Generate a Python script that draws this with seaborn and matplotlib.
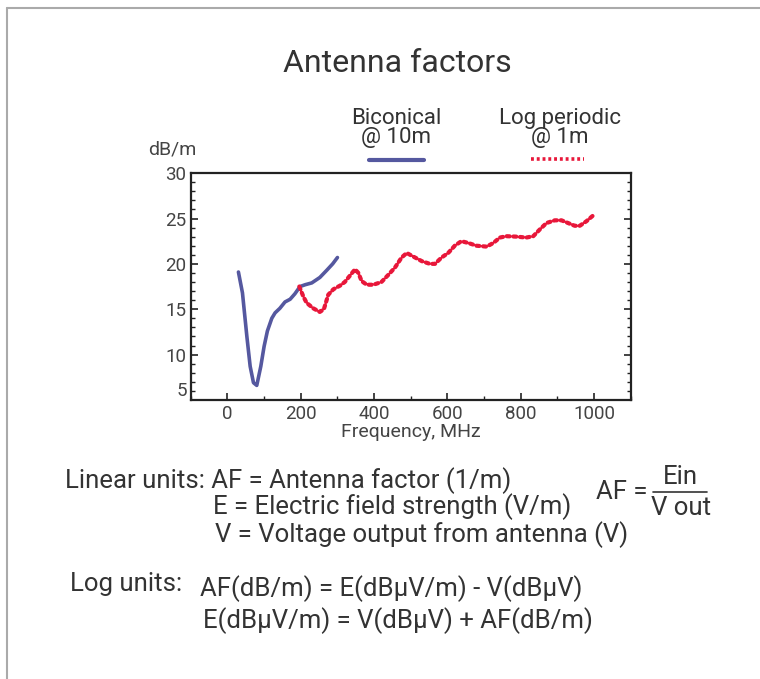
import matplotlib
matplotlib.use("Agg")
import matplotlib.pyplot as plt
from matplotlib.lines import Line2D
from matplotlib.ticker import MultipleLocator
import seaborn as sns
import pandas as pd

# ---- data ----
bic_freq = [30, 41, 53, 62, 71, 80, 91, 100, 109, 121, 130, 143, 157, 171, 184,
            198, 212, 230, 252, 271, 287, 300]
bic_af = [19.1, 16.8, 12.0, 8.7, 6.9, 6.6, 8.7, 10.9, 12.6, 14.0, 14.6, 15.1, 15.8,
          16.1, 16.7, 17.5, 17.7, 17.9, 18.5, 19.3, 20.0, 20.7]

lp_freq = [196, 207, 216, 234, 252, 263, 275, 289, 307, 320, 336, 348, 357, 366,
           380, 398, 420, 439, 457, 475, 489, 507, 530, 552, 566, 584, 602, 620,
           638, 657, 679, 707, 725, 743, 761, 788, 815, 834, 852, 870, 893, 911,
           929, 947, 961, 979, 1002]
lp_af = [17.5, 16.4, 15.7, 15.1, 14.7, 15.0, 16.6, 17.2, 17.6, 18.0, 18.8, 19.4,
         19.0, 18.1, 17.7, 17.7, 18.0, 18.8, 19.6, 20.7, 21.2, 20.8, 20.3, 20.0,
         20.0, 20.7, 21.2, 22.0, 22.5, 22.3, 22.0, 21.9, 22.3, 22.9, 23.05, 23.0,
         22.9, 23.05, 23.8, 24.5, 24.8, 24.8, 24.5, 24.2, 24.2, 24.7, 25.5]

x_ticks = [0, 200, 400, 600, 800, 1000]
y_ticks = [5, 10, 15, 20, 25, 30]

title = "Antenna factors"
x_label = "Frequency, MHz"
y_label = "dB/m"

sns.set_theme(style="white")
FONT = ["Roboto", "DejaVu Sans"]
plt.rcParams["font.family"] = FONT
TXT = "#333333"

fig = plt.figure(figsize=(7.6, 6.79), dpi=100)
ax = fig.add_axes([0.251, 0.411, 0.579, 0.334])

blue = "#55589f"
red = "#e8173a"

df_b = pd.DataFrame({"f": bic_freq, "af": bic_af})
df_l = pd.DataFrame({"f": lp_freq, "af": lp_af})
sns.lineplot(data=df_b, x="f", y="af", ax=ax, color=blue, lw=2.6, sort=False,
             solid_capstyle="round")
sns.lineplot(data=df_l, x="f", y="af", ax=ax, color=red, lw=3.0, sort=False,
             linestyle=(0, (0.7, 0.9)), dash_capstyle="round")

ax.set_xlim(-100, 1100)
ax.set_ylim(5, 30)
ax.set_xticks(x_ticks)
ax.set_yticks(y_ticks)
ax.xaxis.set_minor_locator(MultipleLocator(100))
ax.yaxis.set_minor_locator(MultipleLocator(1))
ax.tick_params(axis="both", which="major", direction="in", length=5, width=1.2,
               color="#222222", labelsize=13.5, labelcolor="#444444")
ax.tick_params(axis="y", which="both", right=True, left=True)
ax.tick_params(axis="y", which="minor", direction="in", length=3, width=1,
               color="#222222", right=True, left=True)
ax.tick_params(axis="x", which="minor", direction="in", length=3, width=1,
               color="#222222", bottom=True, top=False)
ax.tick_params(axis="x", which="major", bottom=True, top=False, pad=4)
ax.tick_params(axis="y", which="major", pad=3)
for s in ax.spines.values():
    s.set_color("#222222")
    s.set_linewidth(1.6)
ax.set_xlabel(x_label, fontsize=14, color="#444444", labelpad=0,
              fontweight="normal")
ax.set_ylabel("")
ax.grid(False)
for lbl in ax.get_yticklabels():
    if lbl.get_text() == "5":
        lbl.set_verticalalignment("bottom")

# y unit label
fig.text(148 / 760, 1 - 150 / 679, y_label, fontsize=14, color="#444444",
         ha="left", va="center")

# title
fig.text(397 / 760, 1 - 64 / 679, title, fontsize=23, color=TXT,
         ha="center", va="center")

# legend
fig.text(396 / 760, 1 - 128 / 679, "Biconical\n@ 10m", fontsize=16, color=TXT,
         ha="center", va="center", linespacing=0.92)
fig.text(560 / 760, 1 - 128 / 679, "Log periodic\n@ 1m", fontsize=16, color=TXT,
         ha="center", va="center", linespacing=0.92)
fig.add_artist(Line2D([369 / 760, 424 / 760], [1 - 160 / 679, 1 - 160 / 679],
                      color=blue, lw=3, solid_capstyle="round",
                      transform=fig.transFigure))
fig.add_artist(Line2D([531 / 760, 584 / 760], [1 - 159 / 679, 1 - 159 / 679],
                      color=red, lw=2.6, linestyle=(0, (0.8, 0.8)),
                      transform=fig.transFigure))

# formula text
fs = 18.5
fig.text(65 / 760, 1 - 481 / 679, "Linear units: AF = Antenna factor (1/m)",
         fontsize=fs, color=TXT, ha="left", va="center")
fig.text(213 / 760, 1 - 507 / 679, "E = Electric field strength (V/m)",
         fontsize=fs, color=TXT, ha="left", va="center")
fig.text(215 / 760, 1 - 535 / 679, "V = Voltage output from antenna (V)",
         fontsize=fs, color=TXT, ha="left", va="center")
fig.text(596 / 760, 1 - 492 / 679, "AF =", fontsize=fs, color=TXT,
         ha="left", va="center")
fig.text(680 / 760, 1 - 477 / 679, "Ein", fontsize=fs, color=TXT,
         ha="center", va="center")
fig.text(681 / 760, 1 - 508 / 679, "V out", fontsize=fs, color=TXT,
         ha="center", va="center")
fig.add_artist(Line2D([653 / 760, 707 / 760], [1 - 492 / 679, 1 - 492 / 679],
                      color=TXT, lw=1.2, transform=fig.transFigure))

fig.text(70 / 760, 1 - 584 / 679, "Log units:", fontsize=fs, color=TXT,
         ha="left", va="center")
fig.text(200 / 760, 1 - 589 / 679, "AF(dB/m) = E(dBμV/m) - V(dBμV)",
         fontsize=fs, color=TXT, ha="left", va="center")
fig.text(203 / 760, 1 - 621 / 679, "E(dBμV/m) = V(dBμV) + AF(dB/m)",
         fontsize=fs, color=TXT, ha="left", va="center")

# frame border (left and top)
fig.add_artist(Line2D([6.5 / 760, 6.5 / 760], [0, 1 - 8 / 679], color="#aaaaaa",
                      lw=1.5, transform=fig.transFigure))
fig.add_artist(Line2D([6.5 / 760, 1], [1 - 8 / 679, 1 - 8 / 679], color="#aaaaaa",
                      lw=1.5, transform=fig.transFigure))

fig.savefig("out.png", dpi=100)
